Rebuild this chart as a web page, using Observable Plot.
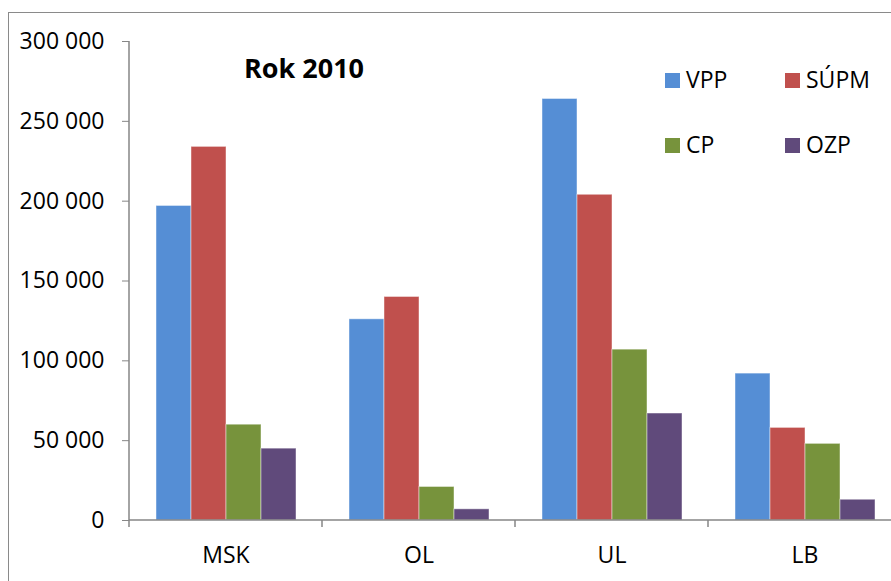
<!DOCTYPE html>
<html>
<head>
<meta charset="utf-8">
<script src="https://cdn.jsdelivr.net/npm/d3@7"></script>
<script src="https://cdn.jsdelivr.net/npm/@observablehq/plot@0.6"></script>
<style>
  html, body { margin: 0; padding: 0; background: #fff; overflow: hidden; width: 891px; height: 581px; }
  #wrap { position: relative; width: 891px; height: 581px; overflow: hidden; font-family: "Open Sans", sans-serif; }
  #border { position: absolute; left: 8px; top: 12px; width: 1000px; height: 1000px; border: 1px solid #8a8a8a; box-sizing: border-box; }
  #chart { position: absolute; left: 0; top: 0; width: 920px; }
  #chart svg { max-width: none !important; width: 920px; height: 581px; }
  #title { position: absolute; left: 244px; top: 54px; font-weight: bold; font-size: 27px; line-height: 1; color: #000; white-space: nowrap; }
  .leg { position: absolute; display: flex; align-items: center; gap: 6px; font-size: 23px; line-height: 1; height: 23px; white-space: nowrap; }
  .leg .sw { width: 15px; height: 15px; }
  .leg span { position: relative; top: -1px; }
</style>
</head>
<body>
<div id="wrap">
  <div id="border"></div>
  <div id="chart"></div>
  <div id="title"></div>
  <div id="legend"></div>
</div>
<script>
const categories = ["MSK", "OL", "UL", "LB"];
const series = ["VPP", "SÚPM", "CP", "OZP"];
const VPP  = [197000, 126000, 264000, 92000];
const SUPM = [234000, 140000, 204000, 58000];
const CP   = [60000, 21000, 107000, 48000];
const OZP  = [45000, 7000, 67000, 13000];
const colors = ["#558ED5", "#C0504D", "#77933C", "#604A7B"];
const yTicks = [0, 50000, 100000, 150000, 200000, 250000, 300000];
const titleText = "Rok 2010";

const seriesValues = [VPP, SUPM, CP, OZP];
const data = categories.flatMap((c, i) =>
  series.map((s, j) => ({cat: c, series: s, value: seriesValues[j][i]}))
);

const fmt = d => d3.format(",")(d).replace(/,/g, " ");

const chart = Plot.plot({
  width: 920,
  height: 581,
  marginLeft: 128,
  marginRight: 18,
  marginTop: 41,
  marginBottom: 61,
  style: {fontFamily: "Open Sans, sans-serif", fontSize: "23px", color: "#000", background: "transparent", overflow: "visible", maxWidth: "none"},
  fx: {domain: categories, padding: 0, label: null},
  x: {domain: series, paddingInner: 0, paddingOuter: 0.74, axis: null},
  y: {domain: [0, 300000], label: null},
  color: {domain: series, range: colors},
  marks: [
    Plot.barY(data, {fx: "cat", x: "series", y: "value", fill: "series", stroke: "#ffffff", strokeOpacity: 0.45, strokeWidth: 1}),
    Plot.axisY({ticks: yTicks, tickFormat: fmt, tickSize: 7, tickPadding: 18, stroke: "#868686", fill: "#000", label: null}),
    Plot.axisFx({anchor: "bottom", tickSize: 0, tickPadding: 26, label: null, fill: "#000"})
  ]
});
document.getElementById("chart").appendChild(chart);

// axis lines and category boundary ticks, using Plot's scales
const svg = d3.select(chart);
const fx = chart.scale("fx");
const y = chart.scale("y");
const x0 = fx.apply(categories[0]);
const xEnd = fx.apply(categories[categories.length - 1]) + fx.bandwidth;
const y0 = y.apply(0);
const yTop = y.apply(300000);
const g = svg.append("g").attr("stroke", "#868686").attr("stroke-width", 1.5);
g.append("line").attr("x1", x0).attr("x2", x0).attr("y1", y0).attr("y2", yTop);
g.append("line").attr("x1", x0).attr("x2", xEnd).attr("y1", y0).attr("y2", y0);
const bounds = categories.map(c => fx.apply(c)).concat([xEnd]);
bounds.forEach(b => g.append("line").attr("x1", b).attr("x2", b).attr("y1", y0).attr("y2", y0 + 7));

// title and legend
document.getElementById("title").textContent = titleText;
const legendPos = [[665, 69], [785, 69], [665, 134], [785, 134]];
const legend = document.getElementById("legend");
series.forEach((s, i) => {
  const d = document.createElement("div");
  d.className = "leg";
  d.style.left = legendPos[i][0] + "px";
  d.style.top = legendPos[i][1] + "px";
  d.innerHTML = `<div class="sw" style="background:${colors[i]}"></div><span>${s}</span>`;
  legend.appendChild(d);
});
</script>
</body>
</html>
